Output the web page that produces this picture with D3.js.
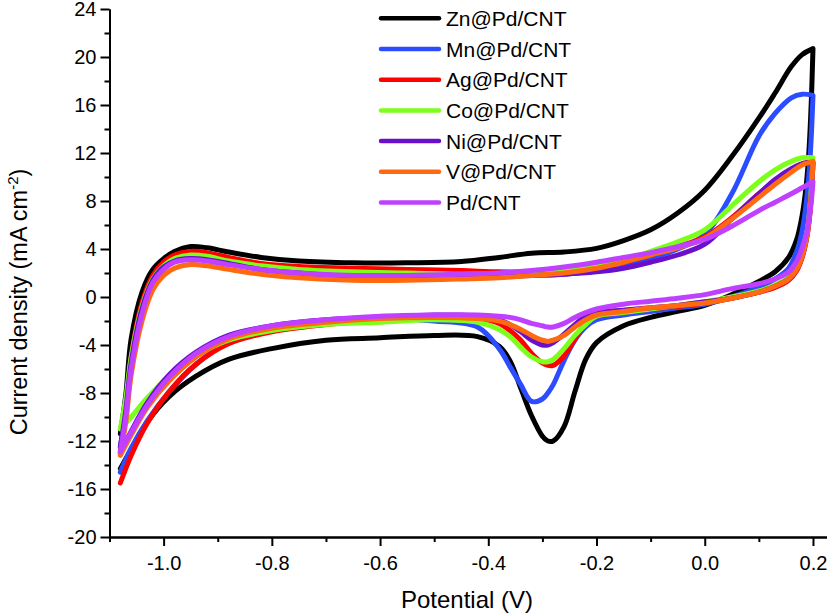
<!DOCTYPE html>
<html>
<head>
<meta charset="utf-8">
<script src="https://cdn.jsdelivr.net/npm/d3@7"></script>
<style>
  html, body { margin: 0; padding: 0; background: #fff; }
  svg { display: block; font-family: "Liberation Sans", Arial, sans-serif; }
</style>
</head>
<body>
<svg id="chart" width="827" height="615"></svg>
<script>
// ---------- data ----------
const seriesNames = ["Zn@Pd/CNT", "Mn@Pd/CNT", "Ag@Pd/CNT", "Co@Pd/CNT", "Ni@Pd/CNT", "V@Pd/CNT", "Pd/CNT"];
const seriesColors = ["#000000", "#2b4cff", "#ff0000", "#7cff1a", "#6a10cc", "#ff6a10", "#c040ff"];

// forward (anodic) scan potentials, V
const fwdV = [-1.08,-1.07,-1.06,-1.04,-1.02,-1.0,-0.98,-0.95,-0.92,-0.88,-0.82,-0.75,-0.65,-0.55,-0.45,-0.38,-0.32,-0.26,-0.2,-0.15,-0.1,-0.05,0.0,0.05,0.1,0.13,0.16,0.18,0.2];
// reverse (cathodic) scan potentials, V
const revV = [0.2,0.197,0.193,0.188,0.18,0.17,0.155,0.13,0.1,0.05,0.0,-0.05,-0.1,-0.15,-0.2,-0.22,-0.24,-0.26,-0.28,-0.29,-0.3,-0.32,-0.34,-0.36,-0.38,-0.42,-0.5,-0.6,-0.7,-0.8,-0.88,-0.94,-0.99,-1.03,-1.06,-1.08];

// current density, mA cm-2
const znFwd = [-11.4,-8.2,-3.5,0.4,2.3,3.2,3.8,4.2,4.1,3.75,3.3,3.0,2.85,2.85,2.95,3.3,3.65,3.75,4.05,4.7,5.6,7.0,8.9,11.7,14.9,17.0,19.2,20.2,20.7];
const znRev = [20.7,16.4,12.5,9.5,6.8,4.8,3.3,2.1,1.3,0.2,-0.7,-1.2,-1.7,-2.4,-3.8,-5.2,-7.9,-10.8,-12.0,-12.0,-11.6,-9.9,-7.6,-5.3,-4.1,-3.3,-3.2,-3.4,-3.6,-4.3,-5.2,-6.6,-8.3,-10.4,-12.7,-14.3];

const mnFwd = [-12.5,-9.5,-5.5,-1.0,1.4,2.5,3.0,3.2,3.1,2.8,2.3,2.0,1.7,1.6,1.6,1.7,1.8,1.9,2.2,2.6,3.2,4.0,5.2,8.6,13.4,15.3,16.6,16.9,16.8];
const mnRev = [16.8,13.5,10.5,8.0,5.5,3.8,2.4,1.5,0.8,0.0,-0.6,-0.9,-1.2,-1.5,-1.9,-2.5,-3.6,-5.3,-7.3,-8.0,-8.5,-8.7,-7.3,-5.8,-4.3,-2.5,-2.0,-1.8,-2.0,-2.6,-3.8,-5.6,-7.9,-10.3,-12.6,-14.6];

const agFwd = [-12.8,-9.5,-5.0,-0.5,1.8,2.9,3.5,3.8,3.7,3.3,2.8,2.55,2.4,2.3,2.2,2.1,2.1,2.2,2.5,2.9,3.5,4.2,5.0,6.6,8.6,9.6,10.6,11.1,11.2];
const agRev = [11.2,8.5,6.4,4.8,3.3,2.2,1.4,0.8,0.4,-0.1,-0.5,-0.8,-1.0,-1.3,-1.6,-2.2,-3.5,-4.9,-5.7,-5.7,-5.5,-4.7,-3.6,-2.8,-2.2,-1.8,-1.7,-1.9,-2.3,-2.9,-3.9,-5.6,-7.9,-10.5,-13.2,-15.5];

const coFwd = [-11.0,-8.5,-5.0,-0.8,1.5,2.6,3.2,3.5,3.4,3.0,2.6,2.3,2.1,2.0,1.9,1.95,2.1,2.3,2.6,3.1,3.8,4.6,5.6,7.6,9.6,10.6,11.3,11.6,11.6];
const coRev = [11.6,9.0,6.8,5.0,3.5,2.4,1.6,1.0,0.5,0.0,-0.4,-0.7,-1.0,-1.3,-1.6,-2.3,-3.2,-4.3,-5.2,-5.4,-5.4,-5.0,-4.2,-3.3,-2.7,-2.1,-1.9,-2.1,-2.3,-2.8,-3.6,-4.9,-6.6,-8.4,-10.0,-11.0];

const niFwd = [-12.5,-9.5,-5.5,-1.0,1.4,2.5,3.0,3.2,3.1,2.8,2.3,2.0,1.7,1.6,1.6,1.7,1.8,1.9,2.1,2.4,2.9,3.5,4.4,6.5,8.6,9.8,10.7,11.1,11.2];
const niRev = [11.2,8.6,6.5,4.9,3.4,2.3,1.5,0.9,0.4,-0.1,-0.4,-0.7,-0.9,-1.1,-1.3,-1.6,-2.3,-3.1,-3.8,-4.0,-4.0,-3.6,-2.9,-2.3,-1.9,-1.6,-1.5,-1.7,-1.9,-2.4,-3.2,-4.6,-6.5,-8.8,-11.2,-13.0];

const vFwd = [-13.0,-10.5,-6.5,-2.0,0.6,1.8,2.4,2.7,2.6,2.3,1.9,1.6,1.4,1.4,1.5,1.6,1.8,2.0,2.4,2.9,3.5,4.1,4.9,6.5,8.3,9.4,10.4,11.0,11.3];
const vRev = [11.3,8.7,6.5,4.9,3.4,2.3,1.5,0.9,0.4,-0.1,-0.5,-0.7,-0.9,-1.2,-1.5,-1.9,-2.5,-3.2,-3.6,-3.7,-3.6,-3.2,-2.7,-2.3,-2.0,-1.8,-1.7,-1.8,-2.1,-2.6,-3.5,-5.0,-7.0,-9.2,-11.5,-13.2];

const pdFwd = [-12.9,-10.0,-6.0,-1.4,1.2,2.3,2.9,3.1,3.0,2.7,2.3,2.0,1.8,1.8,1.9,2.0,2.2,2.5,2.9,3.3,3.7,4.2,4.8,5.9,7.2,7.9,8.6,9.1,9.6];
const pdRev = [9.6,8.0,6.6,5.3,4.1,3.0,2.1,1.5,1.1,0.7,0.2,-0.1,-0.35,-0.6,-1.0,-1.3,-1.7,-2.2,-2.5,-2.5,-2.4,-2.2,-1.9,-1.7,-1.6,-1.5,-1.5,-1.6,-1.9,-2.4,-3.3,-4.7,-6.7,-9.0,-11.3,-12.9];

const fwdCurrents = [znFwd, mnFwd, agFwd, coFwd, niFwd, vFwd, pdFwd];
const revCurrents = [znRev, mnRev, agRev, coRev, niRev, vRev, pdRev];

const xTickValues = [-1.0, -0.8, -0.6, -0.4, -0.2, 0.0, 0.2];
const xTickLabels = ["-1.0", "-0.8", "-0.6", "-0.4", "-0.2", "0.0", "0.2"];
const xMinorValues = [-1.1, -0.9, -0.7, -0.5, -0.3, -0.1, 0.1];
const yTickValues = [-20, -16, -12, -8, -4, 0, 4, 8, 12, 16, 20, 24];
const yTickLabels = ["-20", "-16", "-12", "-8", "-4", "0", "4", "8", "12", "16", "20", "24"];
const yMinorValues = [-18, -14, -10, -6, -2, 2, 6, 10, 14, 18, 22];

// ---------- drawing ----------
const svg = d3.select("#chart");
const x = d3.scaleLinear().domain([-1.1, 0.225]).range([109.5, 826.5]);
const y = d3.scaleLinear().domain([-20, 24]).range([537, 9]);

const line = d3.line()
  .x(d => x(d[0]))
  .y(d => y(d[1]))
  .curve(d3.curveCatmullRom.alpha(0.5));

const plot = svg.append("g");
seriesNames.forEach((name, i) => {
  const pts = fwdV.map((v, k) => [v, fwdCurrents[i][k]])
    .concat(revV.map((v, k) => [v, revCurrents[i][k]]));
  plot.append("path")
    .datum(pts)
    .attr("d", line)
    .attr("fill", "none")
    .attr("stroke", seriesColors[i])
    .attr("stroke-width", 5)
    .attr("stroke-linejoin", "round")
    .attr("stroke-linecap", "round");
});

// axes
const xAxis = svg.append("g").attr("transform", "translate(0,537)")
  .call(d3.axisBottom(x).tickValues(xTickValues)
    .tickFormat((d, i) => xTickLabels[i]).tickSize(9).tickPadding(10).tickSizeOuter(0));
const xMinor = svg.append("g").attr("transform", "translate(0,537)")
  .call(d3.axisBottom(x).tickValues(xMinorValues).tickFormat("").tickSize(5).tickSizeOuter(0));
const yAxis = svg.append("g").attr("transform", "translate(109.5,0)")
  .call(d3.axisLeft(y).tickValues(yTickValues)
    .tickFormat((d, i) => yTickLabels[i]).tickSize(9).tickPadding(4).tickSizeOuter(0));
const yMinor = svg.append("g").attr("transform", "translate(109.5,0)")
  .call(d3.axisLeft(y).tickValues(yMinorValues).tickFormat("").tickSize(5).tickSizeOuter(0));

[xAxis, xMinor, yAxis, yMinor].forEach(g => {
  g.selectAll("path.domain").attr("stroke", "#000").attr("stroke-width", 2);
  g.selectAll(".tick line").attr("stroke", "#000").attr("stroke-width", 2);
  g.selectAll(".tick text").attr("fill", "#000")
    .style("font-family", "'Liberation Sans', Arial, sans-serif")
    .style("font-size", "20px");
});

// axis titles
svg.append("text")
  .attr("x", 467).attr("y", 608)
  .attr("text-anchor", "middle")
  .style("font-size", "24px")
  .text("Potential (V)");

const yt = svg.append("text")
  .attr("transform", "translate(27,302) rotate(-90)")
  .attr("text-anchor", "middle")
  .style("font-size", "23.5px");
yt.append("tspan").text("Current density (mA cm");
yt.append("tspan").attr("dy", -9).style("font-size", "15px").text("-2");
yt.append("tspan").attr("dy", 9).text(")");

// legend
const legend = svg.append("g");
seriesNames.forEach((name, i) => {
  const ly = 18.3 + i * 30.7;
  legend.append("line")
    .attr("x1", 381).attr("x2", 439)
    .attr("y1", ly).attr("y2", ly)
    .attr("stroke", seriesColors[i])
    .attr("stroke-width", 4.5)
    .attr("stroke-linecap", "round");
  legend.append("text")
    .attr("x", 446).attr("y", ly + 7.5)
    .style("font-size", "21px")
    .attr("fill", "#000")
    .text(name);
});
</script>
</body>
</html>
